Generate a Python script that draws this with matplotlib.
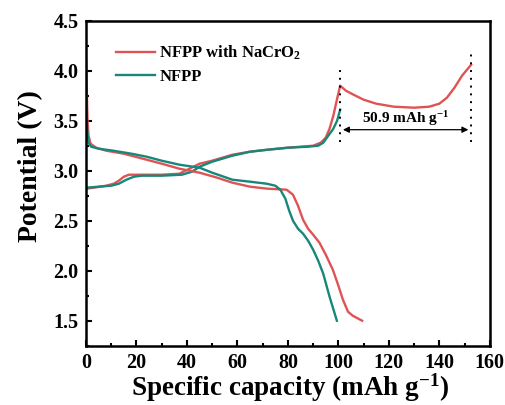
import matplotlib
matplotlib.use("Agg")
import matplotlib.pyplot as plt
from matplotlib.ticker import MultipleLocator

plt.rcParams['font.family'] = ['Liberation Serif', 'DejaVu Serif']
plt.rcParams['font.weight'] = 'bold'
plt.rcParams['mathtext.fontset'] = 'custom'
plt.rcParams['mathtext.rm'] = 'Liberation Serif:bold'
plt.rcParams['mathtext.bf'] = 'Liberation Serif:bold'
plt.rcParams['mathtext.default'] = 'bf'

# ---- data ----
red_charge_x = [0, 3, 8, 11, 13, 15, 17, 20, 30, 37, 41, 45, 50, 58, 65, 72, 80, 85, 90, 93, 95, 96.5, 98, 99.5, 100.7,
                103, 106, 110, 115, 122, 130, 136, 140, 143, 146, 149, 152.6]
red_charge_y = [2.82, 2.83, 2.85, 2.87, 2.90, 2.94, 2.96, 2.96, 2.96, 2.97, 3.02, 3.07, 3.10, 3.16, 3.19, 3.21, 3.23, 3.24, 3.25, 3.28, 3.33, 3.42, 3.55, 3.72, 3.85,
                3.80, 3.76, 3.71, 3.67, 3.64, 3.63, 3.64, 3.67, 3.73, 3.83, 3.95, 4.06]

teal_charge_x = [0, 5, 10, 13, 16, 19, 22, 30, 38, 42, 45, 50, 58, 65, 72, 80, 88, 92, 94, 96, 98, 99.5, 100.7]
teal_charge_y = [2.83, 2.84, 2.85, 2.87, 2.91, 2.94, 2.95, 2.95, 2.96, 2.99, 3.04, 3.09, 3.15, 3.19, 3.21, 3.23, 3.24, 3.25, 3.28, 3.35, 3.42, 3.50, 3.61]

red_dis_x = [0, 0.3, 0.6, 1.0, 1.8, 4, 8, 15, 24, 30, 37, 45, 52, 58, 65, 72, 79.5, 82, 84, 86, 88, 90, 92.5, 95, 97.8, 100, 101.8, 103.8, 105.7, 109.4]
red_dis_y = [4.11, 3.8, 3.5, 3.35, 3.27, 3.23, 3.20, 3.17, 3.11, 3.07, 3.02, 2.98, 2.93, 2.88, 2.84, 2.82, 2.81, 2.76, 2.65, 2.51, 2.42, 2.36, 2.28, 2.16, 2.01, 1.85, 1.71, 1.59, 1.55, 1.50]

teal_dis_x = [0, 0.5, 1.0, 2, 5, 10.8, 18, 24, 30, 37, 45, 50, 58, 65, 71.6, 75, 77, 79, 80.5, 82, 84, 86, 88, 90, 92, 94, 96.5, 99.4]
teal_dis_y = [3.6, 3.4, 3.28, 3.24, 3.22, 3.20, 3.17, 3.14, 3.10, 3.06, 3.03, 2.98, 2.91, 2.89, 2.87, 2.85, 2.81, 2.72, 2.60, 2.50, 2.42, 2.37, 2.30, 2.21, 2.10, 1.97, 1.74, 1.50]

extra_start = 100.7
extra_end = 152.6
extra_label = "50.9 mAh g$^{-1}$"

red = '#DE5455'
teal = '#17877A'

fig = plt.figure(figsize=(5.06, 4.05), dpi=100)
ax = fig.add_axes([0.170, 0.1464, 0.798, 0.8025])

ax.plot(red_charge_x, red_charge_y, color=red, lw=1.7, label='NFPP with NaCrO$_2$')
ax.plot(teal_charge_x, teal_charge_y, color=teal, lw=1.7, label='NFPP')
ax.plot(red_dis_x, red_dis_y, color=red, lw=1.7)
ax.plot(teal_dis_x, teal_dis_y, color=teal, lw=1.7)

# annotation
ax.plot([extra_start, extra_start], [3.29, 4.01], color='black', lw=1.4, ls=(0, (1, 3)))
ax.plot([extra_end, extra_end], [3.29, 4.19], color='black', lw=1.4, ls=(0, (1, 3)))
ax.annotate('', xy=(extra_start, 3.41), xytext=(extra_end, 3.41),
            arrowprops=dict(arrowstyle='<|-|>', color='black', lw=0.9, mutation_scale=9))
ax.text((extra_start + extra_end) / 2, 3.52, extra_label, ha='center', va='center', fontsize=11, fontweight='bold')

ax.set_xlim(0, 160)
ax.set_ylim(1.25, 4.5)
ax.xaxis.set_major_locator(MultipleLocator(20))
ax.xaxis.set_minor_locator(MultipleLocator(10))
ax.yaxis.set_major_locator(MultipleLocator(0.5))
ax.yaxis.set_minor_locator(MultipleLocator(0.25))
ax.tick_params(which='both', direction='in', top=False, right=False, width=1.5)
ax.tick_params(which='major', length=4.5, labelsize=14.5, pad=5.5)
ax.tick_params(which='minor', length=2.5)
for lab in ax.get_xticklabels() + ax.get_yticklabels():
    lab.set_fontweight('bold')
for s in ax.spines.values():
    s.set_linewidth(1.8)

ax.set_xlabel('Specific capacity (mAh g$^{-1}$)', fontsize=19.5, fontweight='bold')
ax.xaxis.set_label_coords(0.505, -0.08)
ax.set_ylabel('Potential (V)', fontsize=20, fontweight='bold')
ax.yaxis.set_label_coords(-0.106, 0.553)

leg = ax.legend(loc='upper left', bbox_to_anchor=(0.074, 0.93), frameon=False, fontsize=12,
                handlelength=2.35, handletextpad=0.26, labelspacing=0.42, borderaxespad=0, borderpad=0)
for t in leg.get_texts():
    t.set_fontweight('bold')

fig.savefig('out.png', dpi=100)
